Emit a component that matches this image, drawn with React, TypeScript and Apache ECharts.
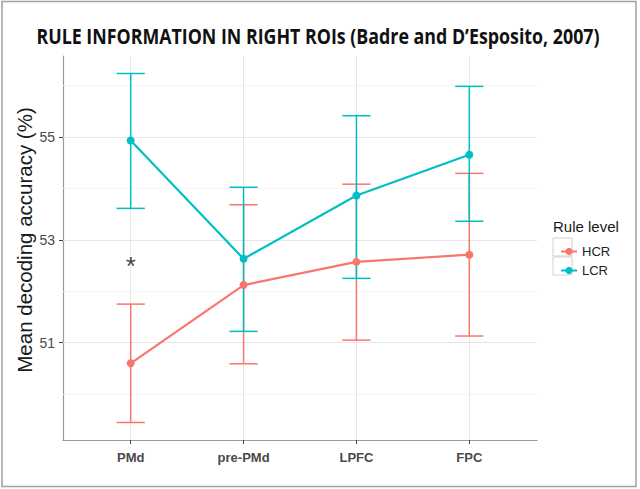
import React, { useEffect, useRef } from "react";
import * as echarts from "echarts";

const categories = ["PMd", "pre-PMd", "LPFC", "FPC"];
const hcrMean = [50.6, 52.12, 52.57, 52.71];
const hcrLow = [49.45, 50.59, 51.05, 51.13];
const hcrHigh = [51.75, 53.68, 54.08, 54.29];
const lcrMean = [54.93, 52.63, 53.86, 54.65];
const lcrLow = [53.61, 51.22, 52.25, 53.36];
const lcrHigh = [56.23, 54.02, 55.41, 55.98];
const yTicks = [51, 53, 55];
const yMinorTicks = [50, 52, 54, 56];
const sigMarks = [{ category: "PMd", value: 52.5, text: "*" }];
const seriesNames = ["HCR", "LCR"];
const titleText = "RULE INFORMATION IN RIGHT ROIs (Badre and D\u2019Esposito, 2007)";
const yTitle = "Mean decoding accuracy (%)";

const HCR_COLOR = "#F8766D";
const LCR_COLOR = "#00BFC4";
const FONT = "'Liberation Sans', Arial, sans-serif";

function errorSeries(name: string, color: string, low: number[], high: number[]) {
  return {
    name,
    type: "custom",
    z: 3,
    silent: true,
    encode: { x: 0, y: [1, 2] },
    data: categories.map((_, i) => [i + 1, low[i], high[i]]),
    renderItem: (_params: any, api: any) => {
      const x = api.value(0);
      const lo = api.value(1);
      const hi = api.value(2);
      const top = api.coord([x, hi]);
      const bot = api.coord([x, lo]);
      const left = api.coord([x - 0.125, hi])[0];
      const right = api.coord([x + 0.125, hi])[0];
      const style = { stroke: color, lineWidth: 1.5 };
      return {
        type: "group",
        children: [
          { type: "line", shape: { x1: top[0], y1: top[1], x2: bot[0], y2: bot[1] }, style },
          { type: "line", shape: { x1: left, y1: top[1], x2: right, y2: top[1] }, style },
          { type: "line", shape: { x1: left, y1: bot[1], x2: right, y2: bot[1] }, style },
        ],
      };
    },
  };
}

export default function App() {
  const ref = useRef<HTMLDivElement>(null);
  useEffect(() => {
    if (!ref.current) return;
    const chart = echarts.init(ref.current, undefined, { renderer: "svg" });
    const gridMajor = { color: "#e6e6e6", width: 1, type: "solid" };
    const gridMinor = { color: "#f2f2f2", width: 0.8, type: "solid" };
    chart.setOption({
      animation: false,
      backgroundColor: "#ffffff",
      grid: { left: 63, right: 103, top: 56, bottom: 49, containLabel: false },
      xAxis: {
        type: "value",
        min: 0.4,
        max: 4.6,
        splitLine: { show: false },
        axisLine: { show: true, lineStyle: { color: "#9a9a9a", width: 1.2 } },
        axisTick: { show: true, customValues: [1, 2, 3, 4], length: 4, lineStyle: { color: "#444" } },
        axisLabel: {
          customValues: [1, 2, 3, 4],
          formatter: (v: number) => categories[Math.round(v) - 1] ?? "",
          fontFamily: FONT,
          fontSize: 13,
          fontWeight: "bold",
          color: "#4a4a4a",
          margin: 11,
        },
      },
      yAxis: {
        type: "value",
        min: 49.11,
        max: 56.57,
        splitLine: { show: false },
        axisLine: { show: true, lineStyle: { color: "#9a9a9a", width: 1.2 } },
        axisTick: { show: true, customValues: yTicks, length: 4, lineStyle: { color: "#444" } },
        axisLabel: {
          customValues: yTicks,
          fontFamily: FONT,
          fontSize: 14,
          color: "#4a4a4a",
          margin: 8,
        },
      },
      legend: {
        data: seriesNames,
        orient: "vertical",
        left: 555,
        top: 240,
        itemWidth: 16,
        itemHeight: 9,
        itemGap: 6,
        textStyle: { fontFamily: FONT, fontSize: 13, color: "#222", lineHeight: 13 },
      },
      graphic: [
        {
          type: "rect",
          shape: { x: 2, y: 1.5, width: 634, height: 485 },
          style: { fill: "none", stroke: "#a0a0a0", lineWidth: 1.5 },
          z: 0,
        },
        {
          type: "text",
          x: 318,
          y: 25,
          scaleX: 0.81,
          style: {
            text: titleText,
            font: "bold 22px 'Open Sans', sans-serif",
            fill: "#111",
            align: "center",
            verticalAlign: "top",
          },
        },
        {
          type: "text",
          x: 24,
          y: 240,
          rotation: Math.PI / 2,
          style: {
            text: yTitle,
            font: `20.5px ${FONT}`,
            fill: "#1a1a1a",
            align: "center",
            verticalAlign: "middle",
          },
        },
        {
          type: "text",
          left: 553,
          top: 219,
          style: { text: "Rule level", font: `15px ${FONT}`, fill: "#1a1a1a" },
        },
        {
          type: "rect",
          shape: { x: 553, y: 238, width: 19, height: 18 },
          style: { fill: "none", stroke: "#d0d0d0", lineWidth: 1 },
        },
        {
          type: "rect",
          shape: { x: 553, y: 257, width: 19, height: 18 },
          style: { fill: "none", stroke: "#d0d0d0", lineWidth: 1 },
        },
      ],
      series: [
        {
          name: "grid",
          type: "line",
          data: [],
          z: 1,
          silent: true,
          markLine: {
            silent: true,
            z: 1,
            symbol: "none",
            label: { show: false },
            emphasis: { disabled: true },
            data: [
              ...yMinorTicks.map((v) => ({ yAxis: v, lineStyle: gridMinor })),
              ...yTicks.map((v) => ({ yAxis: v, lineStyle: gridMajor })),
              ...categories.map((_, i) => ({ xAxis: i + 1, lineStyle: gridMajor })),
            ],
          },
        },
        errorSeries("HCR-err", HCR_COLOR, hcrLow, hcrHigh),
        errorSeries("LCR-err", LCR_COLOR, lcrLow, lcrHigh),
        {
          name: "HCR",
          type: "line",
          z: 4,
          color: HCR_COLOR,
          data: categories.map((_, i) => [i + 1, hcrMean[i]]),
          symbol: "circle",
          symbolSize: 8,
          lineStyle: { width: 2.2 },
        },
        {
          name: "LCR",
          type: "line",
          z: 4,
          color: LCR_COLOR,
          data: categories.map((_, i) => [i + 1, lcrMean[i]]),
          symbol: "circle",
          symbolSize: 8,
          lineStyle: { width: 2.2 },
        },
        {
          name: "sig",
          type: "scatter",
          z: 5,
          silent: true,
          symbolSize: 0,
          data: sigMarks.map((m) => [categories.indexOf(m.category) + 1, m.value, m.text]),
          label: {
            show: true,
            position: "inside",
            formatter: (p: any) => p.data[2],
            fontFamily: FONT,
            fontSize: 26,
            color: "#111",
          },
        },
      ],
    });
    return () => chart.dispose();
  }, []);
  return (
    <div
      ref={ref}
      style={{ position: "fixed", left: 0, top: 0, width: 640, height: 489 }}
    />
  );
}
